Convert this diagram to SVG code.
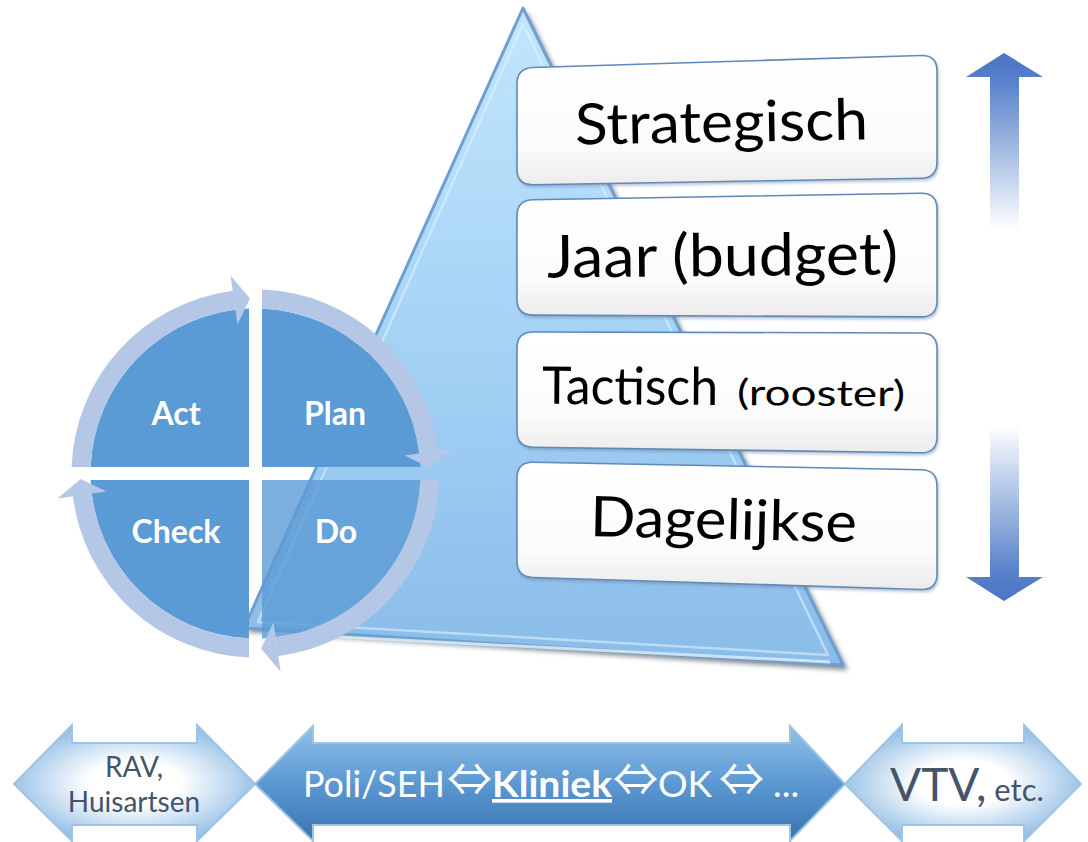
<svg xmlns="http://www.w3.org/2000/svg" width="1088" height="842" viewBox="0 0 1088 842">
  <style>
    .lvl { fill: url(#boxFill); stroke: #5f8abb; stroke-width: 1.6; filter: url(#soft); }
    .lvlText { font-family: Lato, "Open Sans", "Liberation Sans", sans-serif; fill: #000; }
    .quad { fill: #5b9bd5; }
    .ring { fill: #b4c7e7; }
    .qText { font-family: Lato, "Open Sans", "Liberation Sans", sans-serif; font-weight: bold; font-size: 32px; fill: #fff; text-anchor: middle; }
    .sideArrow { fill: url(#sideFill); stroke: #9dc3e6; stroke-width: 2; }
    .sideText { font-family: Lato, "Open Sans", "Liberation Sans", sans-serif; fill: #44546a; }
    .dbl { font-family: "Noto Sans CJK JP", "DejaVu Sans", sans-serif; font-size: 45px; }
  </style>
  <defs>
    <linearGradient id="triFill" x1="0" y1="8" x2="0" y2="665" gradientUnits="userSpaceOnUse">
      <stop offset="0" stop-color="#c2e6fc"/>
      <stop offset="0.5" stop-color="#a5d3f6"/>
      <stop offset="1" stop-color="#8abce9"/>
    </linearGradient>
    <linearGradient id="boxFill" x1="0" y1="0" x2="0" y2="1">
      <stop offset="0" stop-color="#ffffff"/>
      <stop offset="0.7" stop-color="#fbfbfb"/>
      <stop offset="1" stop-color="#ececec"/>
    </linearGradient>
    <radialGradient id="sideFill" cx="0.5" cy="0.5" r="0.55">
      <stop offset="0" stop-color="#ffffff"/>
      <stop offset="0.35" stop-color="#ffffff"/>
      <stop offset="1" stop-color="#8dbbe4"/>
    </radialGradient>
    <linearGradient id="midFill" x1="0" y1="726" x2="0" y2="842" gradientUnits="userSpaceOnUse">
      <stop offset="0" stop-color="#92c0e8"/>
      <stop offset="0.5" stop-color="#5b98d2"/>
      <stop offset="1" stop-color="#3872ad"/>
    </linearGradient>
    <linearGradient id="upFade" x1="0" y1="53" x2="0" y2="230" gradientUnits="userSpaceOnUse">
      <stop offset="0" stop-color="#4a74c6"/>
      <stop offset="0.15" stop-color="#5680ca"/>
      <stop offset="0.55" stop-color="#a3bbe2"/>
      <stop offset="1" stop-color="#ffffff"/>
    </linearGradient>
    <linearGradient id="downFade" x1="0" y1="601" x2="0" y2="425" gradientUnits="userSpaceOnUse">
      <stop offset="0" stop-color="#4a74c6"/>
      <stop offset="0.15" stop-color="#5680ca"/>
      <stop offset="0.55" stop-color="#a3bbe2"/>
      <stop offset="1" stop-color="#ffffff"/>
    </linearGradient>
    <filter id="blur3" x="-10%" y="-10%" width="120%" height="120%">
      <feGaussianBlur stdDeviation="2.5"/>
    </filter>
    <filter id="soft" x="-5%" y="-10%" width="110%" height="125%">
      <feDropShadow dx="1" dy="2" stdDeviation="1.5" flood-color="#6a7f99" flood-opacity="0.45"/>
    </filter>
  </defs>

  <!-- pyramid behind the planning levels -->
  <g id="triangle">
    <polygon points="527,12 848,670 248,632" fill="#7c8894" filter="url(#blur3)"/>
    <polygon points="523,8 843,665 244,628" fill="url(#triFill)" stroke="#6e9fd1" stroke-width="3" stroke-linejoin="round"/>
    <polygon points="523,24 828,655 258,622" fill="none" stroke="#e2f3ff" stroke-opacity="0.55" stroke-width="2.5" stroke-linejoin="round"/>
    <line x1="262" y1="633" x2="830" y2="662" stroke="#dff1ff" stroke-width="3" stroke-opacity="0.8"/>
  </g>

  <!-- planning levels -->
  <g id="level-strategisch">
    <path class="lvl" d="M517,84 Q517,68 533,67.5 L921,55.5 Q937,55 937,71 L937,162 Q937,178 921,178.3 L533,184.7 Q517,185 517,169 Z"/>
    <text class="lvlText" x="575" y="142" font-size="57" textLength="293" lengthAdjust="spacingAndGlyphs" transform="rotate(-1 721 130)">Strategisch</text>
  </g>
  <g id="level-jaar">
    <path class="lvl" d="M517,216 Q517,200 533,199.7 L921,193.3 Q937,193 937,209 L937,301 Q937,317 921,316.9 L533,315.1 Q517,315 517,299 Z"/>
    <text class="lvlText" x="547" y="276" font-size="59" textLength="351" lengthAdjust="spacingAndGlyphs" transform="rotate(-0.5 722 260)">Jaar (budget)</text>
  </g>
  <g id="level-tactisch">
    <path class="lvl" d="M517,348 Q517,332 533,332 L921,333 Q937,333 937,349 L937,437 Q937,453 921,452.8 L533,447.2 Q517,447 517,431 Z"/>
    <text class="lvlText" y="405" transform="rotate(0.4 722 395)"><tspan x="542" font-size="52" textLength="176" lengthAdjust="spacingAndGlyphs">Tactisch</tspan><tspan x="737" font-size="36" textLength="168" lengthAdjust="spacingAndGlyphs">(rooster)</tspan></text>
  </g>
  <g id="level-dagelijkse">
    <path class="lvl" d="M517,478 Q517,462 533,462.3 L921,469.7 Q937,470 937,486 L937,574 Q937,590 921,589.5 L533,577.5 Q517,577 517,561 Z"/>
    <text class="lvlText" x="590" y="539" font-size="56" textLength="267" lengthAdjust="spacingAndGlyphs" transform="rotate(1.3 723 525)">Dagelijkse</text>
  </g>

  <!-- PDCA cycle -->
  <g id="pdca-act">
    <path class="quad" d="M249,467 L249,308.6 A165,165 0 0 0 90.6,467 Z"/>
    <g transform="translate(255.5 473.5)">
      <path class="ring" d="M-183.89,-6.5 A184,184 0 0 1 -22.42,-182.63 L-20.11,-163.77 A165,165 0 0 0 -164.87,-6.5 Z"/>
      <path class="ring" d="M-25,-198 L-5.5,-174.91 L-18,-149 Z"/>
    </g>
    <text class="qText" x="176" y="425">Act</text>
  </g>
  <g id="pdca-plan">
    <path class="quad" d="M262,467 L262,308.6 A165,165 0 0 1 420.4,467 Z"/>
    <g transform="translate(255.5 473.5) rotate(90)">
      <path class="ring" d="M-183.89,-6.5 A184,184 0 0 1 -22.42,-182.63 L-20.11,-163.77 A165,165 0 0 0 -164.87,-6.5 Z"/>
      <path class="ring" d="M-25,-198 L-5.5,-174.91 L-18,-149 Z"/>
    </g>
    <text class="qText" x="335" y="425">Plan</text>
  </g>
  <g id="pdca-do">
    <path class="quad" d="M262,480 L420.4,480 A165,165 0 0 1 262,638.4 Z" fill-opacity="0.8"/>
    <g transform="translate(255.5 473.5) rotate(180)">
      <path class="ring" d="M-183.89,-6.5 A184,184 0 0 1 -22.42,-182.63 L-20.11,-163.77 A165,165 0 0 0 -164.87,-6.5 Z"/>
      <path class="ring" d="M-25,-198 L-5.5,-174.91 L-18,-149 Z"/>
    </g>
    <text class="qText" x="336" y="543">Do</text>
  </g>
  <g id="pdca-check">
    <path class="quad" d="M249,480 L249,638.4 A165,165 0 0 1 90.6,480 Z"/>
    <g transform="translate(255.5 473.5) rotate(270)">
      <path class="ring" d="M-183.89,-6.5 A184,184 0 0 1 -22.42,-182.63 L-20.11,-163.77 A165,165 0 0 0 -164.87,-6.5 Z"/>
      <path class="ring" d="M-25,-198 L-5.5,-174.91 L-18,-149 Z"/>
    </g>
    <text class="qText" x="176" y="543">Check</text>
  </g>

  <!-- vertical scale arrow, fading towards the middle -->
  <g id="scale-arrow">
    <polygon points="1004,53 1043,77 1019,77 1019,230 990,230 990,77 966,77" fill="url(#upFade)"/>
    <polygon points="990,425 1019,425 1019,577 1043,577 1004,601 966,577 990,577" fill="url(#downFade)"/>
  </g>

  <!-- care chain along the bottom -->
  <g id="chain-rav">
    <polygon class="sideArrow" points="14,784 72,725 72,743 197,743 197,725 255,784 197,841 197,825 72,825 72,841"/>
    <text class="sideText" text-anchor="middle" font-size="28"><tspan x="134" y="777">RAV,</tspan><tspan x="134" y="812">Huisartsen</tspan></text>
  </g>
  <g id="chain-kliniek">
    <polygon points="255,784 313,726 313,743 790,743 790,726 845,784 790,841 790,825 313,825 313,841" fill="url(#midFill)" stroke="#9dc3e6" stroke-width="2"/>
    <text font-family="Lato, 'Open Sans', 'Liberation Sans', 'DejaVu Sans', sans-serif" font-size="37" fill="#fff" y="797"><tspan x="303" textLength="142" lengthAdjust="spacingAndGlyphs">Poli/SEH</tspan><tspan class="dbl" x="447" y="796">⇔</tspan><tspan x="492" y="797" font-weight="bold" text-decoration="underline" textLength="120" lengthAdjust="spacingAndGlyphs">Kliniek</tspan><tspan class="dbl" x="613" y="796">⇔</tspan><tspan x="658" y="797">OK </tspan><tspan class="dbl" x="719" y="796">⇔ </tspan><tspan x="773" y="797">...</tspan></text>
  </g>
  <g id="chain-vtv">
    <polygon class="sideArrow" points="845,784 902,725 902,743 1024,743 1024,725 1081,784 1024,841 1024,825 902,825 902,841"/>
    <text class="sideText" y="801"><tspan x="890" font-size="46">VTV,</tspan><tspan font-size="31"> etc.</tspan></text>
  </g>
</svg>
